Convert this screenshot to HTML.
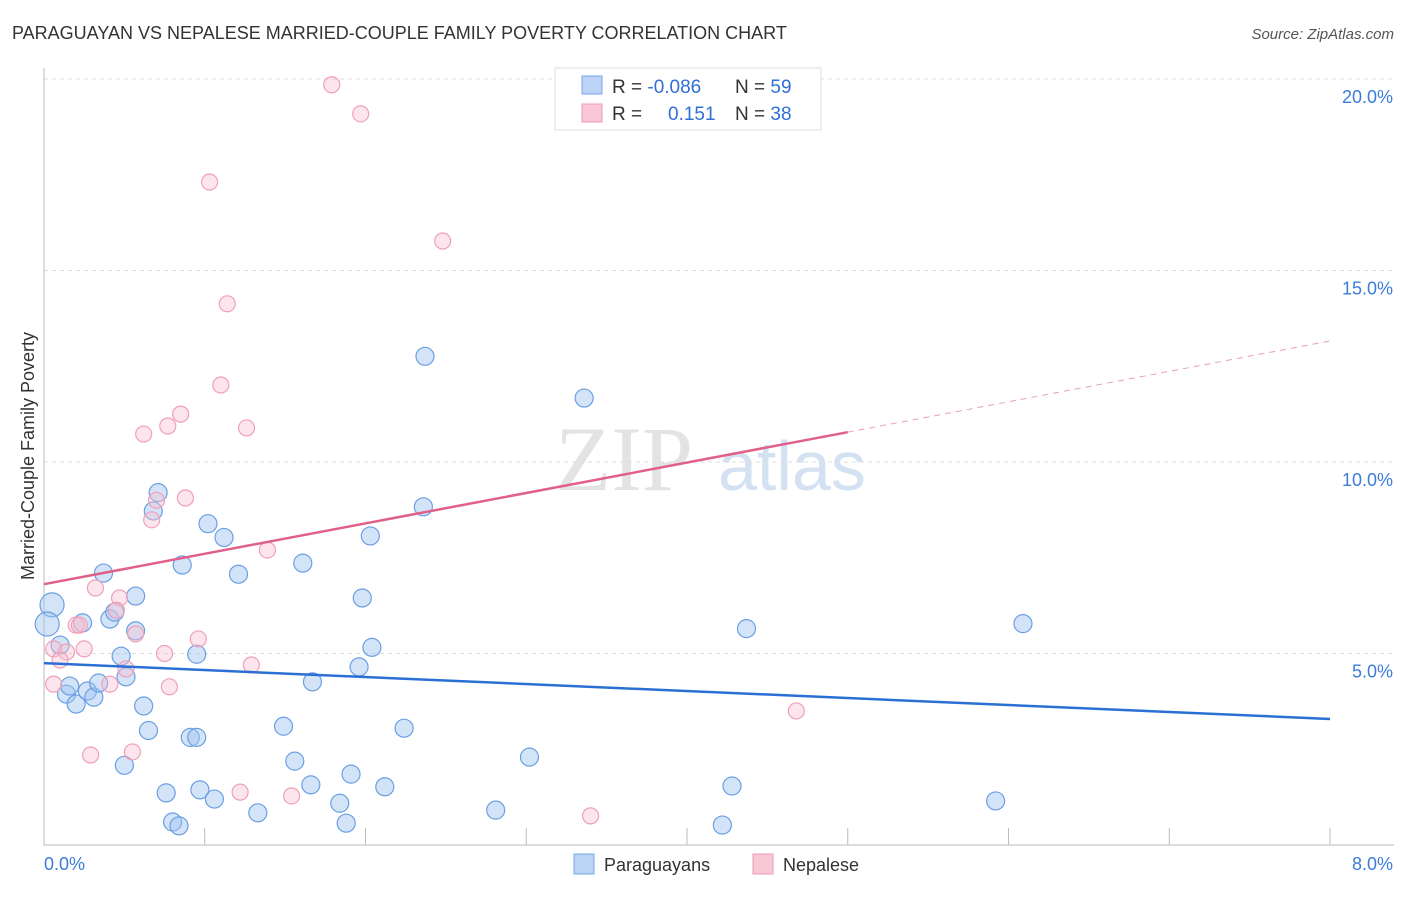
<!DOCTYPE html>
<html><head><meta charset="utf-8"><style>
body{margin:0;background:#fff;font-family:"Liberation Sans",sans-serif}
</style></head><body>
<svg width="1406" height="892" xmlns="http://www.w3.org/2000/svg" font-family="Liberation Sans, sans-serif">
<text x="12" y="39" font-size="18" fill="#333">PARAGUAYAN VS NEPALESE MARRIED-COUPLE FAMILY POVERTY CORRELATION CHART</text>
<text x="1394" y="39" font-size="15" fill="#555" text-anchor="end" font-style="italic">Source: ZipAtlas.com</text>
<text x="555" y="490" font-size="92" fill="#ddd" font-family="Liberation Serif, serif" opacity="0.8">ZIP</text>
<text x="718" y="490" font-size="70" fill="#c9daf0" opacity="0.8">atlas</text>
<g id="grid"></g>
<g id="axes"></g>
<text transform="translate(34,456) rotate(-90)" font-size="18" fill="#333" text-anchor="middle">Married-Couple Family Poverty</text>
<g id="pts"></g>
<g id="trend"></g>
<g>
<rect x="555" y="68" width="266" height="62" fill="#fff" stroke="#ddd"/>
<rect x="582" y="76" width="20" height="18" fill="#bcd4f5" stroke="#7aa6e6"/>
<rect x="582" y="104" width="20" height="18" fill="#f9c8d6" stroke="#ee9ab3"/>
<text x="612" y="93" font-size="19" fill="#333">R = <tspan fill="#2f6fd6">-0.086</tspan></text>
<text x="735" y="93" font-size="19" fill="#333">N = <tspan fill="#2f6fd6">59</tspan></text>
<text x="612" y="120" font-size="19" fill="#333">R = </text>
<text x="668" y="120" font-size="19" fill="#2f6fd6">0.151</text>
<text x="735" y="120" font-size="19" fill="#333">N = <tspan fill="#2f6fd6">38</tspan></text>
</g>
<g>
<rect x="574" y="854" width="20" height="20" fill="#bcd4f5" stroke="#7aa6e6"/>
<text x="604" y="871" font-size="18" fill="#333">Paraguayans</text>
<rect x="753" y="854" width="20" height="20" fill="#f9c8d6" stroke="#ee9ab3"/>
<text x="783" y="871" font-size="18" fill="#333">Nepalese</text>
</g>
</svg>
<script>
const xTicks=[0,8];
const yTicks=[5,10,15,20];
const blueX=[0.05,0.02,0.1,0.14,0.16,0.2,0.24,0.27,0.31,0.34,0.37,0.41,0.44,0.48,0.51,0.5,0.71,0.57,0.65,0.62,0.68,0.57,0.76,0.8,0.84,0.86,0.91,0.95,0.97,0.95,1.02,1.06,1.12,1.21,1.33,1.49,1.56,1.61,1.66,1.67,1.84,1.88,1.91,1.96,1.98,2.03,2.04,2.12,2.24,2.37,2.36,2.81,3.02,3.36,4.37,4.22,4.28,5.92,6.09];
const blueY=[6.27,5.77,5.22,3.94,4.15,3.68,5.8,4.02,3.86,4.23,7.1,5.9,6.08,4.93,4.39,2.08,9.2,6.5,2.99,3.63,8.72,5.59,1.36,0.6,0.5,7.31,2.81,2.81,1.44,4.98,8.39,1.2,8.03,7.07,0.84,3.1,2.19,7.36,1.57,4.26,1.09,0.57,1.85,4.65,6.45,8.07,5.16,1.52,3.05,12.76,8.83,0.91,2.295,11.67,5.65,0.52,1.54,1.15,5.78];
const pinkX=[1.79,1.97,1.03,2.48,1.14,1.1,0.85,0.77,0.62,1.26,0.7,0.88,0.67,1.39,0.32,0.47,0.45,0.2,0.22,0.57,0.96,0.06,0.14,0.25,0.1,0.75,0.51,1.29,0.06,0.41,0.78,0.29,0.55,1.22,1.54,3.4,4.68];
const pinkY=[19.85,19.09,17.31,15.77,14.13,12.01,11.25,10.94,10.73,10.89,9.0,9.06,8.49,7.7,6.71,6.45,6.13,5.74,5.74,5.51,5.38,5.12,5.04,5.12,4.83,5.0,4.6,4.7,4.2,4.2,4.13,2.35,2.43,1.38,1.28,0.76,3.5];
const blueTrend=[4.75,3.29];
const pinkTrend=[6.81,13.16];
const pinkSolidEnd=5.0;
const X=v=>44+v/8*1286, Y=v=>845-v*38.3;
const ns="http://www.w3.org/2000/svg";
function mk(t,a,p){const e=document.createElementNS(ns,t);for(const k in a)e.setAttribute(k,a[k]);p.appendChild(e);return e;}
const grid=document.getElementById('grid'),axes=document.getElementById('axes'),pts=document.getElementById('pts'),tr=document.getElementById('trend');
yTicks.forEach(v=>{const l=mk('line',{x1:44,x2:1394,y1:Y(v),y2:Y(v),stroke:'#ddd','stroke-dasharray':'4,4'},grid);


const t=mk('text',{x:1393,y:Y(v)+24,'font-size':18,fill:'#3b7dd8','text-anchor':'end'},axes);t.textContent=v.toFixed(1)+'%';

});
const ax=mk('line',{x1:44,x2:44,y1:68,y2:845,stroke:'#bbb'},axes);


const bx=mk('line',{x1:44,x2:1394,y1:845,y2:845,stroke:'#bbb'},axes);


for(let i=1;i<=8;i++){const l=mk('line',{x1:X(i),x2:X(i),y1:828,y2:845,stroke:'#bbb'},axes);

}
xTicks.forEach((v,i)=>{const t=mk('text',{x:i?1393:44,y:870,'font-size':18,fill:'#3b7dd8','text-anchor':i?'end':'start'},axes);t.textContent=v.toFixed(1)+'%';

});
blueX.forEach((v,i)=>{const r=i<2?12:9;const c=mk('circle',{cx:X(v),cy:Y(blueY[i]),r:r,fill:'rgba(160,195,240,0.45)',stroke:'#6b9fe3','stroke-width':1.2},pts);

});
pinkX.forEach((v,i)=>{const c=mk('circle',{cx:X(v),cy:Y(pinkY[i]),r:8,fill:'rgba(248,190,208,0.4)',stroke:'#f0a0b8','stroke-width':1.2},pts);

});
const bl=mk('line',{x1:X(0),y1:Y(blueTrend[0]),x2:X(8),y2:Y(blueTrend[1]),stroke:'#2b6fd4','stroke-width':2.5},tr);


const pm=pinkTrend[0]+(pinkTrend[1]-pinkTrend[0])*pinkSolidEnd/8;
const pl=mk('line',{x1:X(0),y1:Y(pinkTrend[0]),x2:X(pinkSolidEnd),y2:Y(pm),stroke:'#e0608a','stroke-width':2.5},tr);


const pd=mk('line',{x1:X(pinkSolidEnd),y1:Y(pm),x2:X(8),y2:Y(pinkTrend[1]),stroke:'#e8a0b8','stroke-width':1,'stroke-dasharray':'6,5'},tr);


</script>
</body></html>
